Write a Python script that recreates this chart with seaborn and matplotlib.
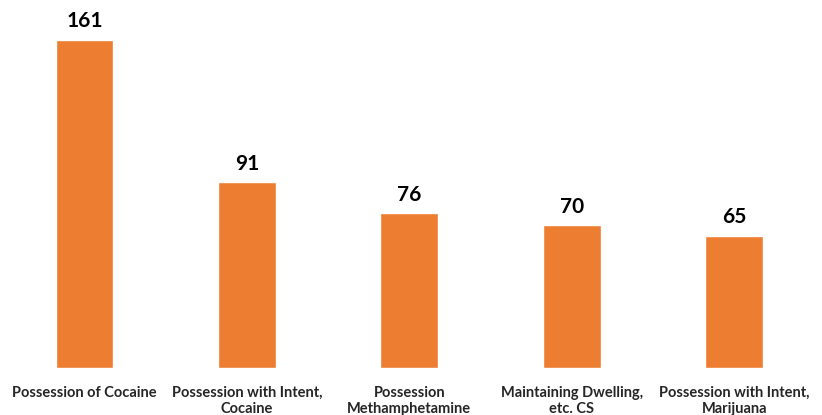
import pandas as pd
import matplotlib.pyplot as plt
import seaborn as sns

# Chart data
charges = [
    'Possession of Cocaine',
    'Possession with Intent,\nCocaine',
    'Possession\nMethamphetamine',
    'Maintaining Dwelling,\netc. CS',
    'Possession with Intent,\nMarijuana',
]
counts = [161, 91, 76, 70, 65]

df = pd.DataFrame({'charge': charges, 'count': counts})

sns.set_style('white')
plt.rcParams['font.family'] = ['Lato', 'DejaVu Sans']

fig = plt.figure(figsize=(8.22, 4.15), dpi=100)
ax = fig.add_axes([0.004, 0.113, 0.988, 0.865])

sns.barplot(data=df, x='charge', y='count', color='#ED7D31', saturation=1,
            width=0.357, ax=ax)

ax.bar_label(ax.containers[0], padding=6, fontsize=15, fontweight='bold',
             color='black')

ax.set_ylim(0, 176)
ax.set_xlim(-0.5, 4.5)
ax.set_xlabel('')
ax.set_ylabel('')
ax.set_yticks([])
ax.tick_params(axis='x', length=0, pad=13)
for lbl in ax.get_xticklabels():
    lbl.set_fontsize(10.5)
    lbl.set_fontweight('bold')
    lbl.set_linespacing(1.15)
sns.despine(ax=ax, left=True, bottom=True)

plt.savefig('out.png', dpi=100)
